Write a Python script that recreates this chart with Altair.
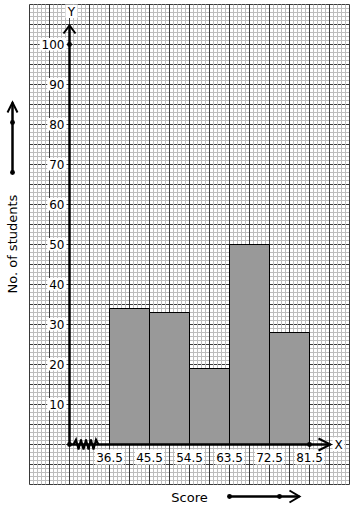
import altair as alt
import pandas as pd

# ---- values ----
class_edges = [36.5, 45.5, 54.5, 63.5, 72.5, 81.5]
frequencies = [34, 33, 19, 50, 28]
y_tick_values = [10, 20, 30, 40, 50, 60, 70, 80, 90, 100]
x_tick_labels = ["36.5", "45.5", "54.5", "63.5", "72.5", "81.5"]
x_title = "Score"
y_title = "No. of students"

FONT = "DejaVu Sans"
W, H = 320, 480
X_MIN, X_MAX = 18.5, 90.5      # extent of the graph paper (data units)
Y_MIN, Y_MAX = -10, 110
X_ORIGIN = 27.5                # where the (broken) y-axis is drawn
KX = W / (X_MAX - X_MIN)
KY = H / (Y_MAX - Y_MIN)


def ux(px):
    return px / KX


def uy(px):
    return px / KY


xs = alt.Scale(domain=[X_MIN, X_MAX], nice=False, zero=False)
ys = alt.Scale(domain=[Y_MIN, Y_MAX], nice=False, zero=False)


def X(f):
    return alt.X(f"{f}:Q", scale=xs, axis=None)


def Y(f):
    return alt.Y(f"{f}:Q", scale=ys, axis=None)


# ---- graph paper ----
gx = [X_MIN + 0.9 * k for k in range(81)]
gy = [Y_MIN + k for k in range(121)]
minor_x = pd.DataFrame({"x": [v for k, v in enumerate(gx) if k % 5]})
major_x = pd.DataFrame({"x": [v for k, v in enumerate(gx) if k % 5 == 0]})
minor_y = pd.DataFrame({"y": [v for k, v in enumerate(gy) if k % 5]})
major_y = pd.DataFrame({"y": [v for k, v in enumerate(gy) if k % 5 == 0]})

MAJOR = "#3a3a3a"
MINOR = "#bdbdbd"
l_major_y = alt.Chart(major_y).mark_rule(color=MAJOR, strokeWidth=1).encode(y=Y("y"))
l_minor_x = alt.Chart(minor_x).mark_rule(color=MINOR, strokeWidth=1).encode(x=X("x"))
l_minor_y = alt.Chart(minor_y).mark_rule(color=MINOR, strokeWidth=1).encode(y=Y("y"))
l_major_x = alt.Chart(major_x).mark_rule(color=MAJOR, strokeWidth=1).encode(x=X("x"))

# ---- histogram bars ----
bars_df = pd.DataFrame({
    "lo": class_edges[:-1],
    "hi": class_edges[1:],
    "f": frequencies,
    "z": [0] * len(frequencies),
})
l_bars = alt.Chart(bars_df).mark_rect(fill="#999999", stroke="black", strokeWidth=1).encode(
    x=X("lo"), x2=alt.X2("hi:Q"), y=Y("z"), y2=alt.Y2("f:Q")
)

# ---- y tick labels with white boxes ----
ylab = pd.DataFrame({
    "v": y_tick_values,
    "lab": [str(v) for v in y_tick_values],
})
ylab["x"] = X_ORIGIN
ylab["bl"] = [X_ORIGIN - ux(5 + 7.63 * len(s) + 2) for s in ylab["lab"]]
ylab["br"] = X_ORIGIN - ux(3)
l_ybox = alt.Chart(ylab).mark_rect(fill="white", yOffset=-6.5, y2Offset=6).encode(
    x=X("bl"), x2=alt.X2("br:Q"), y=Y("v"), y2=alt.Y2("v:Q")
)
l_ytxt = alt.Chart(ylab).mark_text(
    align="right", baseline="middle", dx=-5, font=FONT, fontSize=12, color="black"
).encode(x=X("x"), y=Y("v"), text="lab:N")

# ---- x tick labels with white boxes ----
xlab = pd.DataFrame({"v": class_edges, "lab": x_tick_labels, "z": [0] * len(class_edges)})
l_xbox = alt.Chart(xlab).mark_rect(
    fill="white", xOffset=-14.5, x2Offset=14.5, yOffset=5, y2Offset=20
).encode(x=X("v"), x2=alt.X2("v:Q"), y=Y("z"), y2=alt.Y2("z:Q"))
l_xtxt = alt.Chart(xlab).mark_text(
    align="center", baseline="middle", dy=13, font=FONT, fontSize=12, color="black"
).encode(x=X("v"), y=Y("z"), text="lab:N")

# ---- axis letters ----
y_tip = 100 + uy(19)
x_tip = class_edges[-1] + ux(21)
letters = pd.DataFrame({
    "x": [X_ORIGIN + ux(2), X_MAX - ux(11)],
    "y": [Y_MAX - uy(7), 0],
    "t": ["Y", "X"],
})
l_letbox = alt.Chart(letters).mark_rect(
    fill="white", xOffset=-6, x2Offset=6, yOffset=-7, y2Offset=6.5
).encode(x=X("x"), x2=alt.X2("x:Q"), y=Y("y"), y2=alt.Y2("y:Q"))
l_lettxt = alt.Chart(letters).mark_text(
    align="center", baseline="middle", font=FONT, fontSize=12, color="black"
).encode(x=X("x"), y=Y("y"), text="t:N")

# ---- axes ----
yaxis_df = pd.DataFrame({"x": [X_ORIGIN], "y": [0], "y2": [y_tip]})
l_yaxis = alt.Chart(yaxis_df).mark_rule(color="black", strokeWidth=2.5).encode(
    x=X("x"), y=Y("y"), y2=alt.Y2("y2:Q")
)
xaxis_df = pd.DataFrame({"x": [X_ORIGIN], "x2": [x_tip], "y": [0]})
l_xaxis = alt.Chart(xaxis_df).mark_rule(color="black", strokeWidth=2.5).encode(
    x=X("x"), x2=alt.X2("x2:Q"), y=Y("y")
)

# zigzag axis break
zz_x = [X_ORIGIN + ux(4 + 2.5 * i) for i in range(11)]
zz_y = [0] + [uy(5) * (1 if i % 2 else -1) for i in range(1, 10)] + [0]
zz = pd.DataFrame({"x": zz_x, "y": zz_y, "o": list(range(11))})
l_zz = alt.Chart(zz).mark_line(color="black", strokeWidth=2).encode(
    x=X("x"), y=Y("y"), order="o:Q"
)

# ---- titles and their arrows ----
ttl_y_x = X_MIN - ux(17)
titles = pd.DataFrame({"x": [class_edges[2]], "y": [-uy(53)], "t": [x_title]})
l_xtitle = alt.Chart(titles).mark_text(
    align="center", baseline="middle", font=FONT, fontSize=13, color="black"
).encode(x=X("x"), y=Y("y"), text="t:N")
ytitles = pd.DataFrame({"x": [ttl_y_x], "y": [50.1], "t": [y_title]})
l_ytitle = alt.Chart(ytitles).mark_text(
    align="center", baseline="middle", angle=270, font=FONT, fontSize=13, color="black"
).encode(x=X("x"), y=Y("y"), text="t:N")

sc_y = -13
sc_arrow = pd.DataFrame({"x": [class_edges[3]], "x2": [79.25], "y": [sc_y]})
l_sc_line = alt.Chart(sc_arrow).mark_rule(color="black", strokeWidth=2.5).encode(
    x=X("x"), x2=alt.X2("x2:Q"), y=Y("y")
)
ns_arrow = pd.DataFrame({"x": [ttl_y_x], "y": [68], "y2": [85.5]})
l_ns_line = alt.Chart(ns_arrow).mark_rule(color="black", strokeWidth=2.5).encode(
    x=X("x"), y=Y("y"), y2=alt.Y2("y2:Q")
)

# dots
dots = pd.DataFrame({
    "x": [X_ORIGIN, X_ORIGIN, class_edges[-1], class_edges[3], 74.75, ttl_y_x, ttl_y_x],
    "y": [0, 100, 0, sc_y, sc_y, 68, 80.5],
})
l_dots = alt.Chart(dots).mark_point(
    shape="circle", filled=True, size=24, color="black", opacity=1
).encode(x=X("x"), y=Y("y"))

# arrowheads (open chevrons)
up_heads = pd.DataFrame({"x": [X_ORIGIN], "y": [y_tip]})
l_up1 = alt.Chart(up_heads).mark_point(
    shape="M-1,1.33L0,0L1,1.33", size=144, filled=False, stroke="black", strokeWidth=2, opacity=1
).encode(x=X("x"), y=Y("y"))
up2 = pd.DataFrame({"x": [ttl_y_x], "y": [85.5]})
l_up2 = alt.Chart(up2).mark_point(
    shape="M-1,2L0,0L1,2", size=100, filled=False, stroke="black", strokeWidth=2, opacity=1
).encode(x=X("x"), y=Y("y"))
rt1 = pd.DataFrame({"x": [x_tip], "y": [0]})
l_rt1 = alt.Chart(rt1).mark_point(
    shape="M-2,-1L0,0L-2,1", size=144, filled=False, stroke="black", strokeWidth=2, opacity=1
).encode(x=X("x"), y=Y("y"))
rt2 = pd.DataFrame({"x": [79.25], "y": [sc_y]})
l_rt2 = alt.Chart(rt2).mark_point(
    shape="M-1.67,-1L0,0L-1.67,1", size=144, filled=False, stroke="black", strokeWidth=2, opacity=1
).encode(x=X("x"), y=Y("y"))

chart = alt.layer(
    l_major_y, l_minor_x, l_minor_y, l_major_x,
    l_bars,
    l_ybox, l_xbox, l_letbox,
    l_yaxis, l_xaxis, l_zz,
    l_ytxt, l_xtxt, l_lettxt,
    l_xtitle, l_ytitle, l_sc_line, l_ns_line,
    l_dots, l_up1, l_up2, l_rt1, l_rt2,
).properties(
    width=W,
    height=H,
    autosize=alt.AutoSizeParams(type="none"),
    padding={"left": 29.5, "top": 4.5, "right": 4.5, "bottom": 25.5},
    background="white",
).configure_view(stroke=None)

chart.save("out.html", embed_options={"renderer": "svg", "actions": False})
